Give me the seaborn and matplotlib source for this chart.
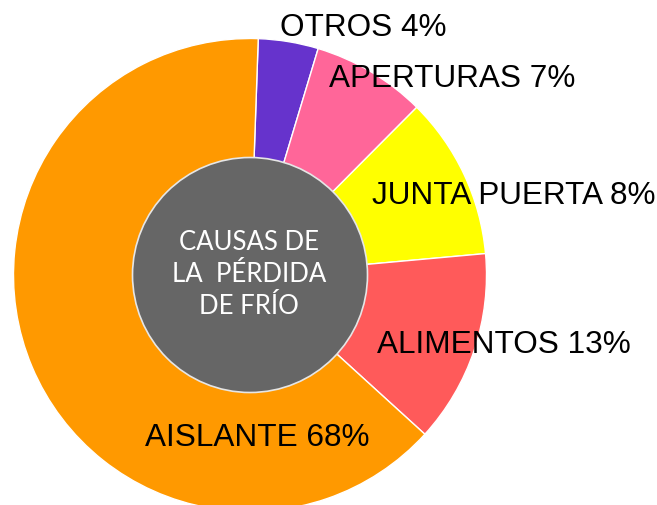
import matplotlib
matplotlib.use("Agg")
import matplotlib.pyplot as plt
import seaborn as sns
from matplotlib.patches import Circle

# Datos (orden horario desde arriba)
causas = ["OTROS", "APERTURAS", "JUNTA PUERTA", "ALIMENTOS", "AISLANTE"]
porcentajes = [4, 7, 8, 13, 68]               # lo que dicen las etiquetas
pesos = [4.1, 7.8, 11.1, 13.2, 63.8]          # tamaño de cada porción tal como se dibuja
colores = ["#6633CC", "#FF6699", "#FFFF00", "#FF5A5A", "#FF9900"]
titulo = "CAUSAS DE\nLA  PÉRDIDA\nDE FRÍO"

# Posición de las etiquetas (px desde arriba a la izquierda)
pos_etiquetas = [(280, 28), (329, 79), (372, 196), (377, 345), (145, 438)]

sns.set_style("white")
plt.rcParams["font.family"] = ["Liberation Sans", "DejaVu Sans"]

W, H = 657, 506
fig = plt.figure(figsize=(W / 100, H / 100), dpi=100)
ax = fig.add_axes([0, 0, 1, 1])

centro = (250, H - 276)
radio = 236.5
radio_int = 117.5

ax.pie(pesos, colors=sns.color_palette(colores), startangle=88, counterclock=False,
       center=centro, radius=radio,
       wedgeprops=dict(edgecolor="white", linewidth=1.0))

ax.add_patch(Circle(centro, radio_int, facecolor="#666666", edgecolor="#E6E6E6",
                    linewidth=1.2, zorder=3))
ax.text(centro[0] - 1, centro[1] + 2, titulo, color="white", ha="center", va="center",
        fontsize=18.5, family=["Lato", "DejaVu Sans"], linespacing=1.35, zorder=4)

for causa, pct, (x, y) in zip(causas, porcentajes, pos_etiquetas):
    ax.text(x, H - y, f"{causa} {pct}%", ha="left", va="center", fontsize=22.7,
            color="black", zorder=5)

ax.set_xlim(0, W)
ax.set_ylim(0, H)
ax.set_aspect("equal")
ax.axis("off")

fig.savefig("out.png", dpi=100, facecolor="white")
